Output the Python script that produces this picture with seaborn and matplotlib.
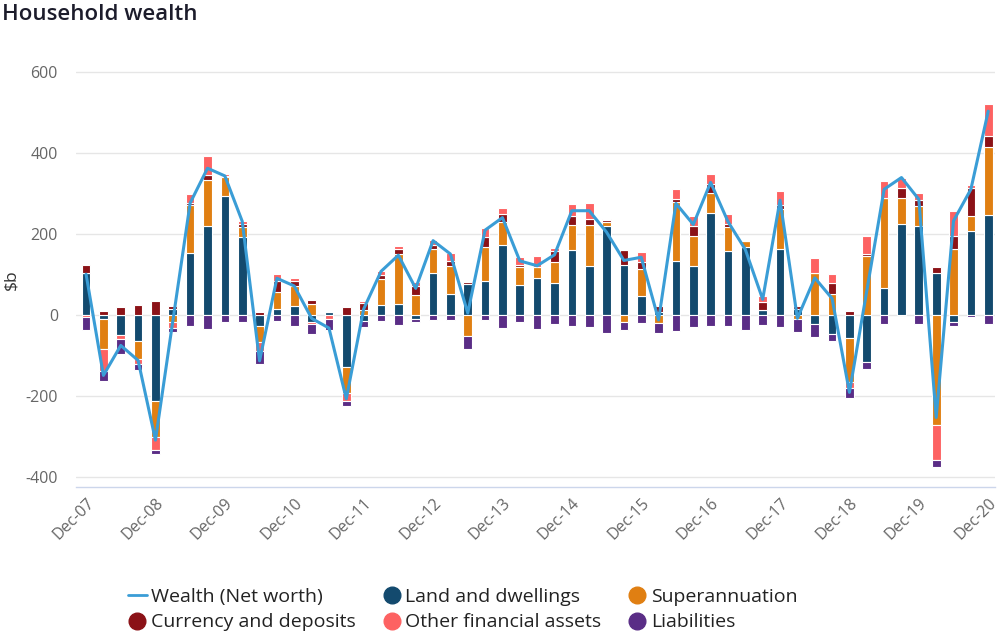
import matplotlib

matplotlib.use("Agg")

import matplotlib.pyplot as plt
import numpy as np
import seaborn as sns
from matplotlib.lines import Line2D

quarters = [
    "Dec-07", "Mar-08", "Jun-08", "Sep-08", "Dec-08", "Mar-09", "Jun-09", "Sep-09",
    "Dec-09", "Mar-10", "Jun-10", "Sep-10", "Dec-10", "Mar-11", "Jun-11", "Sep-11",
    "Dec-11", "Mar-12", "Jun-12", "Sep-12", "Dec-12", "Mar-13", "Jun-13", "Sep-13",
    "Dec-13", "Mar-14", "Jun-14", "Sep-14", "Dec-14", "Mar-15", "Jun-15", "Sep-15",
    "Dec-15", "Mar-16", "Jun-16", "Sep-16", "Dec-16", "Mar-17", "Jun-17", "Sep-17",
    "Dec-17", "Mar-18", "Jun-18", "Sep-18", "Dec-18", "Mar-19", "Jun-19", "Sep-19",
    "Dec-19", "Mar-20", "Jun-20", "Sep-20", "Dec-20",
]

land = [105, -10, -49, -63, -212, 16, 154, 221, 295, 193, -26, 16, 23, -16, 7, -128,
        -14, 25, 27, -10, 105, 52, 77, 85, 173, 74, 92, 79, 162, 121, 220, 123,
        47, 8, 133, 121, 252, 159, 168, 12, 164, 14, -21, -47, -56, -115, 68, 225,
        219, 105, -18, 208, 248]
superann = [0, -74, 0, -46, -89, -18, 118, 112, 46, 25, -40, 40, 49, 27, 0, -65,
            13, 64, 124, 49, 58, 70, -51, 84, 56, 44, 27, 51, 60, 101, 10, -18,
            68, -19, 147, 75, 49, 59, 15, 0, 99, -10, 105, 51, -110, 146, 222, 65,
            51, -272, 163, 37, 168]
currency = [20, 10, 19, 25, 35, 7, 6, 14, 4, 8, 8, 29, 12, 10, 0, 21,
            16, 10, 12, 22, 10, 11, 6, 23, 20, 6, 0, 28, 24, 16, 5, 38,
            16, 15, 8, 24, 23, 8, 0, 20, 10, 8, 0, 29, 11, 4, 0, 24,
            15, 15, 33, 69, 27]
other = [-4, -53, -11, -12, -33, -14, 22, 45, 3, 7, -22, 16, 8, -6, -10, -20,
         6, 9, 7, 11, 13, 20, 0, 24, 15, 19, 28, 8, 28, 38, 3, 0,
         25, 0, 23, 24, 25, 23, 0, 16, 33, 2, 36, 22, -14, 45, 41, 26,
         16, -85, 62, 8, 78]
liabilities = [-33, -25, -35, -15, -10, -10, -26, -35, -18, -16, -33, -15, -26, -24, -28, -12,
               -15, -14, -24, -8, -11, -11, -33, -11, -33, -18, -35, -23, -26, -30, -44, -18,
               -19, -25, -40, -30, -28, -27, -38, -24, -30, -32, -32, -17, -24, -18, -22, 0,
               -22, -19, -8, -4, -22]
net_worth = [101, -149, -75, -112, -309, -15, 277, 363, 344, 232, -113, 91, 72, -8, -32, -207,
             15, 108, 148, 66, 184, 151, 5, 210, 241, 134, 122, 149, 258, 258, 205, 135,
             143, -12, 276, 224, 328, 231, 162, 39, 284, -8, 92, 41, -191, 60, 311, 340,
             286, -253, 233, 311, 504]

series_names = ["Land and dwellings", "Superannuation", "Currency and deposits",
                "Other financial assets", "Liabilities"]
series_values = [land, superann, currency, other, liabilities]
series_colors = ["#134a6e", "#e07f12", "#8b1217", "#fd6262", "#5a2d86"]
line_color = "#3a9dd6"

year_ticks = list(range(0, len(quarters), 4))

sns.set_theme(style="white")
plt.rcParams["font.family"] = ["Open Sans", "DejaVu Sans"]
plt.rcParams["axes.unicode_minus"] = False

fig, ax = plt.subplots(figsize=(10, 6.35), dpi=100)
fig.subplots_adjust(left=0.076, right=0.995, bottom=0.233, top=0.902)

# stack positives upward and negatives downward, in series order
pos_base = np.zeros(len(quarters))
neg_base = np.zeros(len(quarters))
for name, vals, color in zip(series_names, series_values, series_colors):
    vals = np.asarray(vals, dtype=float)
    bottom = np.where(vals >= 0, pos_base, neg_base)
    sns.barplot(x=quarters, y=vals, bottom=bottom, color=color, saturation=1,
                width=0.5, edgecolor="white", linewidth=0.8, errorbar=None,
                ax=ax, zorder=2)
    pos_base += np.clip(vals, 0, None)
    neg_base += np.clip(vals, None, 0)

sns.lineplot(x=np.arange(len(quarters)), y=net_worth, color=line_color,
             linewidth=2.2, ax=ax, zorder=5)

ax.set_xlim(-0.58, 52.39)
ax.set_ylim(-425, 625)
ax.set_yticks([-400, -200, 0, 200, 400, 600])
ax.yaxis.grid(True, color="#e6e6e6", linewidth=1)
ax.set_axisbelow(True)
ax.set_xticks(year_ticks)
ax.set_xticklabels([quarters[i] for i in year_ticks], rotation=45, ha="right",
                   rotation_mode="anchor")
ax.tick_params(axis="both", length=0, labelsize=11.5, labelcolor="#666666")
ax.tick_params(axis="x", pad=6)
ax.tick_params(axis="y", pad=13)
for side in ["top", "right", "left"]:
    ax.spines[side].set_visible(False)
ax.spines["bottom"].set_color("#ccd6eb")
ax.spines["bottom"].set_linewidth(1)
ax.set_xlabel("")
ax.set_ylabel("\\$b", fontsize=12.5, color="#333333")
ax.yaxis.set_label_coords(-0.062, 0.489)

fig.text(0.002, 0.993, "Household wealth", fontsize=16, fontweight="semibold",
         color="#1c1c2b", ha="left", va="top")

handles = [
    Line2D([], [], color=line_color, linewidth=2),
    Line2D([], [], marker="o", linestyle="", markersize=12, color=series_colors[2]),
    Line2D([], [], marker="o", linestyle="", markersize=12, color=series_colors[0]),
    Line2D([], [], marker="o", linestyle="", markersize=12, color=series_colors[3]),
    Line2D([], [], marker="o", linestyle="", markersize=12, color=series_colors[1]),
    Line2D([], [], marker="o", linestyle="", markersize=12, color=series_colors[4]),
]
labels = ["Wealth (Net worth)", series_names[2], series_names[0],
          series_names[3], series_names[1], series_names[4]]
fig.legend(handles, labels, loc="lower left", bbox_to_anchor=(0.110, -0.022), ncol=3,
           frameon=False, fontsize=14.0, handlelength=1.0, handletextpad=0.2,
           columnspacing=1.35, labelspacing=0.38, labelcolor="#222222")

fig.savefig("out.png", dpi=100)
